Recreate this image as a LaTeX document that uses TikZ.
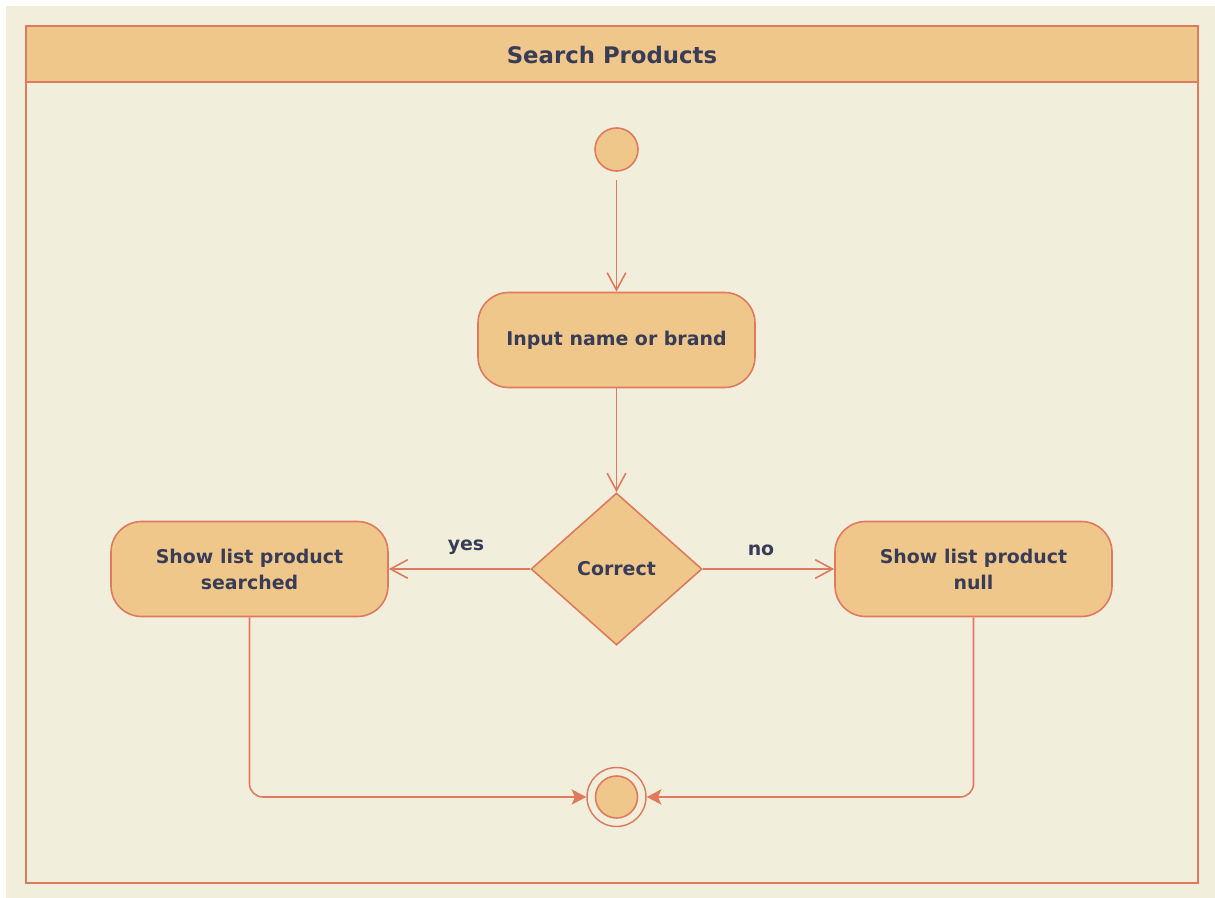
\documentclass[tikz,border=0pt]{standalone}
\usepackage{fontspec}
\setmainfont{DejaVu Sans}
\usetikzlibrary{shapes.geometric,arrows.meta}
\definecolor{bgc}{HTML}{F1EFDC}
\definecolor{fillc}{HTML}{F0C78B}
\definecolor{strokec}{HTML}{E07A5F}
\definecolor{textc}{HTML}{393C56}
\begin{document}
\begin{tikzpicture}[x=0.75pt,y=-0.75pt,
  lbl/.style={text=textc,font=\bfseries\fontsize{14.2}{19.5}\selectfont},
  action/.style={draw=strokec,fill=fillc,line width=1.2pt,rounded corners=23pt,
    minimum width=207.75pt,minimum height=71.25pt,align=center,inner sep=0pt,lbl},
  decision/.style={diamond,draw=strokec,fill=fillc,line width=1.2pt,
    minimum width=128.25pt,minimum height=114pt,inner sep=0pt,lbl},
  startnode/.style={circle,draw=strokec,fill=fillc,line width=1.2pt,minimum size=32.25pt,inner sep=0pt},
  endouter/.style={circle,draw=strokec,line width=1.1pt,minimum size=44.25pt,inner sep=0pt},
  endinner/.style={circle,draw=strokec,fill=fillc,line width=1.2pt,minimum size=31.5pt,inner sep=0pt},
  conn/.style={draw=strokec,line width=1.2pt},
  openarr/.style={-{Straight Barb[length=13pt,width=14pt]}},
  fillarr/.style={-{Stealth[length=11pt,width=11.5pt,inset=2.5pt]}}
]
\useasboundingbox (0,0) rectangle (1215,898);
\fill[white] (0,0) rectangle (1215,898);
\fill[bgc] (6,6) rectangle (1215,898);
% pool
\draw[strokec,line width=1.6pt] (26,26) rectangle (1198,883);
\draw[strokec,fill=fillc,line width=1.6pt] (26,26) rectangle (1198,82);
\node[text=textc,font=\bfseries\fontsize{17.1}{20}\selectfont] (title) at (612,55) {Search Products};
% nodes
\node[startnode] (start) at (616.5,149.5) {};
\node[action] (input) at (616.5,340) {Input name or brand};
\node[decision] (dec) at (616.5,569) {Correct};
\node[action] (left) at (249.5,569) {Show list product\\searched};
\node[action] (right) at (973.5,569) {Show list product\\null};
\node[endouter] (endo) at (616.5,797) {};
\node[endinner] (endi) at (616.5,797) {};
% labels
\node[lbl] (yes) at (466,547) {yes};
\node[lbl] (no) at (761,550) {no};
% connectors
\draw[conn,openarr] ([yshift=-6pt]start.south) -- (input.north);
\draw[conn,openarr] (input.south) -- (dec.north);
\draw[conn,openarr] (dec.west) -- (dec.west -| left.east);
\draw[conn,openarr] (dec.east) -- (dec.east -| right.west);
\draw[conn,fillarr,rounded corners=10pt] (left.south) |- (endo.west);
\draw[conn,fillarr,rounded corners=10pt] (right.south) |- (endo.east);
\end{tikzpicture}
\end{document}
